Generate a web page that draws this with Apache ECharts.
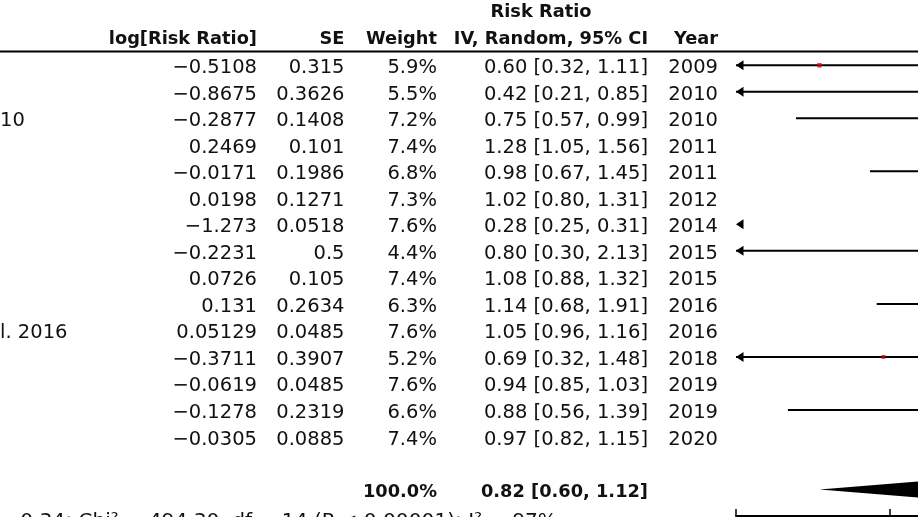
<!DOCTYPE html>
<html>
<head>
<meta charset="utf-8">
<script src="https://cdn.jsdelivr.net/npm/echarts@6/dist/echarts.min.js"></script>
<style>
html,body{margin:0;padding:0;background:#ffffff;}
#chart{width:918px;height:517px;}
</style>
</head>
<body>
<div id="chart"></div>
<script>
// ---------------- data ----------------
const studyFragments = ["", "", "10", "", "", "", "", "", "", "", "l. 2016", "", "", "", ""];
const logRR   = [-0.5108, -0.8675, -0.2877, 0.2469, -0.0171, 0.0198, -1.273, -0.2231, 0.0726, 0.131, 0.05129, -0.3711, -0.0619, -0.1278, -0.0305];
const seValues = [0.315, 0.3626, 0.1408, 0.101, 0.1986, 0.1271, 0.0518, 0.5, 0.105, 0.2634, 0.0485, 0.3907, 0.0485, 0.2319, 0.0885];
const weights = [5.9, 5.5, 7.2, 7.4, 6.8, 7.3, 7.6, 4.4, 7.4, 6.3, 7.6, 5.2, 7.6, 6.6, 7.4];
const riskRatio = [0.60, 0.42, 0.75, 1.28, 0.98, 1.02, 0.28, 0.80, 1.08, 1.14, 1.05, 0.69, 0.94, 0.88, 0.97];
const ciLower = [0.32, 0.21, 0.57, 1.05, 0.67, 0.80, 0.25, 0.30, 0.88, 0.68, 0.96, 0.32, 0.85, 0.56, 0.82];
const ciUpper = [1.11, 0.85, 0.99, 1.56, 1.45, 1.31, 0.31, 2.13, 1.32, 1.91, 1.16, 1.48, 1.03, 1.39, 1.15];
const years = [2009, 2010, 2010, 2011, 2011, 2012, 2014, 2015, 2015, 2016, 2016, 2018, 2019, 2019, 2020];
const totalWeight = 100.0;
const totalRR = 0.82;
const totalLower = 0.60;
const totalUpper = 1.12;
const axisTickValues = [0.5, 0.7, 1, 1.5, 2];
const headerTopText = "Risk Ratio";
const headerTexts = ["log[Risk Ratio]", "SE", "Weight", "IV, Random, 95% CI", "Year"];
const heterogeneityText = "Heterogeneity: Tau\u00b2 = 0.34; Chi\u00b2 = 494.30, df = 14 (P < 0.00001); I\u00b2 = 97%";

// ---------------- layout / style ----------------
const FONT = "'DejaVu Sans', sans-serif";
const REG = 19.5, BOLD = 17.8;
const TEXT_COLOR = '#111111';
const X_MIN = Math.log(axisTickValues[0]);
const X_MAX = Math.log(axisTickValues[axisTickValues.length - 1]);
const TOTAL_ROW = 16;
const COL = { study: 0, logrr: 257, se: 344.5, weight: 437, ci: 648, year: 718 };
const TEXT_DY = 3;

const fmt = v => String(v).replace('-', '\u2212');
const ciText = (r, l, u) => r.toFixed(2) + ' [' + l.toFixed(2) + ', ' + u.toFixed(2) + ']';

// table rows: studies + total
const tableData = logRR.map((v, i) => [X_MIN, i]);
tableData.push([X_MIN, TOTAL_ROW]);

function txt(x, y, text, align, bold) {
  return {
    type: 'text',
    style: {
      x: x, y: y, text: text,
      fill: TEXT_COLOR,
      fontFamily: FONT,
      fontSize: bold ? BOLD : REG,
      fontWeight: bold ? 'bold' : 'normal',
      align: align,
      verticalAlign: 'middle'
    }
  };
}

function renderTable(params, api) {
  const k = params.dataIndex;
  const row = api.value(1);
  const y = api.coord([X_MIN, row])[1] + TEXT_DY;
  const children = [];
  if (k < logRR.length) {
    if (studyFragments[k]) children.push(txt(COL.study, y, studyFragments[k], 'left', false));
    children.push(txt(COL.logrr, y, fmt(logRR[k]), 'right', false));
    children.push(txt(COL.se, y, fmt(seValues[k]), 'right', false));
    children.push(txt(COL.weight, y, weights[k].toFixed(1) + '%', 'right', false));
    children.push(txt(COL.ci, y, ciText(riskRatio[k], ciLower[k], ciUpper[k]), 'right', false));
    children.push(txt(COL.year, y, String(years[k]), 'right', false));
  } else {
    children.push(txt(COL.weight, y, totalWeight.toFixed(1) + '%', 'right', true));
    children.push(txt(COL.ci, y, ciText(totalRR, totalLower, totalUpper), 'right', true));
  }
  return { type: 'group', children: children };
}

function renderCI(params, api) {
  const lo = api.value(0), hi = api.value(1), row = api.value(2);
  const yPx = api.coord([X_MIN, row])[1];
  const xMinPx = api.coord([X_MIN, row])[0];
  const children = [];
  if (hi > X_MIN) {
    const x1 = api.coord([Math.max(lo, X_MIN), row])[0];
    const x2 = api.coord([Math.min(hi, X_MAX), row])[0];
    children.push({ type: 'line', shape: { x1: x1, y1: yPx, x2: x2, y2: yPx },
      style: { stroke: '#000', lineWidth: 2 } });
  }
  if (lo < X_MIN) {
    children.push({ type: 'polygon',
      shape: { points: [[xMinPx, yPx], [xMinPx + 7.5, yPx - 5], [xMinPx + 7.5, yPx + 5]] },
      style: { fill: '#000' } });
  }
  return { type: 'group', children: children };
}

function renderDiamond(params, api) {
  const row = api.value(3);
  const pL = api.coord([api.value(0), row]);
  const pC = api.coord([api.value(1), row]);
  const pR = api.coord([api.value(2), row]);
  const h = 11.5;
  return { type: 'polygon',
    shape: { points: [[pL[0], pL[1]], [pC[0], pC[1] - h], [pR[0], pR[1]], [pC[0], pC[1] + h]] },
    style: { fill: '#000' } };
}

const chart = echarts.init(document.getElementById('chart'), null, { renderer: 'canvas' });
const rowPx = 26.51;
const firstRowY = 65.3;
chart.setOption({
  animation: false,
  backgroundColor: '#ffffff',
  grid: { left: 736, top: firstRowY - rowPx, width: 634.5, height: 18 * rowPx, containLabel: false, outerBoundsMode: 'none' },
  xAxis: {
    type: 'value', min: X_MIN, max: X_MAX,
    axisLine: { show: true, onZero: false, lineStyle: { color: '#000', width: 2 } },
    axisTick: { show: true, inside: true, length: 7, customValues: axisTickValues.map(v => Math.log(v)),
      lineStyle: { color: '#000', width: 1.5 } },
    axisLabel: { show: false, customValues: axisTickValues.map(v => Math.log(v)) },
    splitLine: { show: false }
  },
  yAxis: {
    type: 'value', inverse: true, min: -1, max: 17, show: false,
    axisLine: { onZero: false }, splitLine: { show: false }
  },
  graphic: [
    { type: 'line', shape: { x1: 0, y1: 51.5, x2: 918, y2: 51.5 }, style: { stroke: '#000', lineWidth: 2 } },
    { type: 'text', style: { x: 541, y: 12.5, text: headerTopText, fill: TEXT_COLOR, fontFamily: FONT, fontSize: BOLD, fontWeight: 'bold', align: 'center', verticalAlign: 'middle' } },
    { type: 'text', style: { x: COL.logrr, y: 39, text: headerTexts[0], fill: TEXT_COLOR, fontFamily: FONT, fontSize: BOLD, fontWeight: 'bold', align: 'right', verticalAlign: 'middle' } },
    { type: 'text', style: { x: COL.se, y: 39, text: headerTexts[1], fill: TEXT_COLOR, fontFamily: FONT, fontSize: BOLD, fontWeight: 'bold', align: 'right', verticalAlign: 'middle' } },
    { type: 'text', style: { x: COL.weight, y: 39, text: headerTexts[2], fill: TEXT_COLOR, fontFamily: FONT, fontSize: BOLD, fontWeight: 'bold', align: 'right', verticalAlign: 'middle' } },
    { type: 'text', style: { x: COL.ci, y: 39, text: headerTexts[3], fill: TEXT_COLOR, fontFamily: FONT, fontSize: BOLD, fontWeight: 'bold', align: 'right', verticalAlign: 'middle' } },
    { type: 'text', style: { x: COL.year, y: 39, text: headerTexts[4], fill: TEXT_COLOR, fontFamily: FONT, fontSize: BOLD, fontWeight: 'bold', align: 'right', verticalAlign: 'middle' } },
    { type: 'text', style: { x: 557, y: 521.5, text: heterogeneityText, fill: TEXT_COLOR, fontFamily: FONT, fontSize: 20.2, align: 'right', verticalAlign: 'middle' } }
  ],
  series: [
    {
      type: 'custom', name: 'table', clip: false, silent: true,
      data: tableData, encode: { x: 0, y: 1 },
      renderItem: renderTable
    },
    {
      type: 'custom', name: 'ci', clip: false, silent: true, z: 3,
      data: ciLower.map((l, i) => [Math.log(l), Math.log(ciUpper[i]), i]),
      encode: { x: [0, 1], y: 2 },
      renderItem: renderCI
    },
    {
      type: 'scatter', name: 'estimate', clip: true, z: 4, silent: true,
      symbol: 'rect',
      symbolSize: v => v[2] * 0.75,
      itemStyle: { color: '#dd0000' },
      data: riskRatio.map((r, i) => [Math.log(r), i, weights[i]])
    },
    {
      type: 'custom', name: 'pooled', clip: false, silent: true, z: 3,
      data: [[Math.log(totalLower), Math.log(totalRR), Math.log(totalUpper), TOTAL_ROW]],
      encode: { x: [0, 1, 2], y: 3 },
      renderItem: renderDiamond
    }
  ]
});
</script>
</body>
</html>
